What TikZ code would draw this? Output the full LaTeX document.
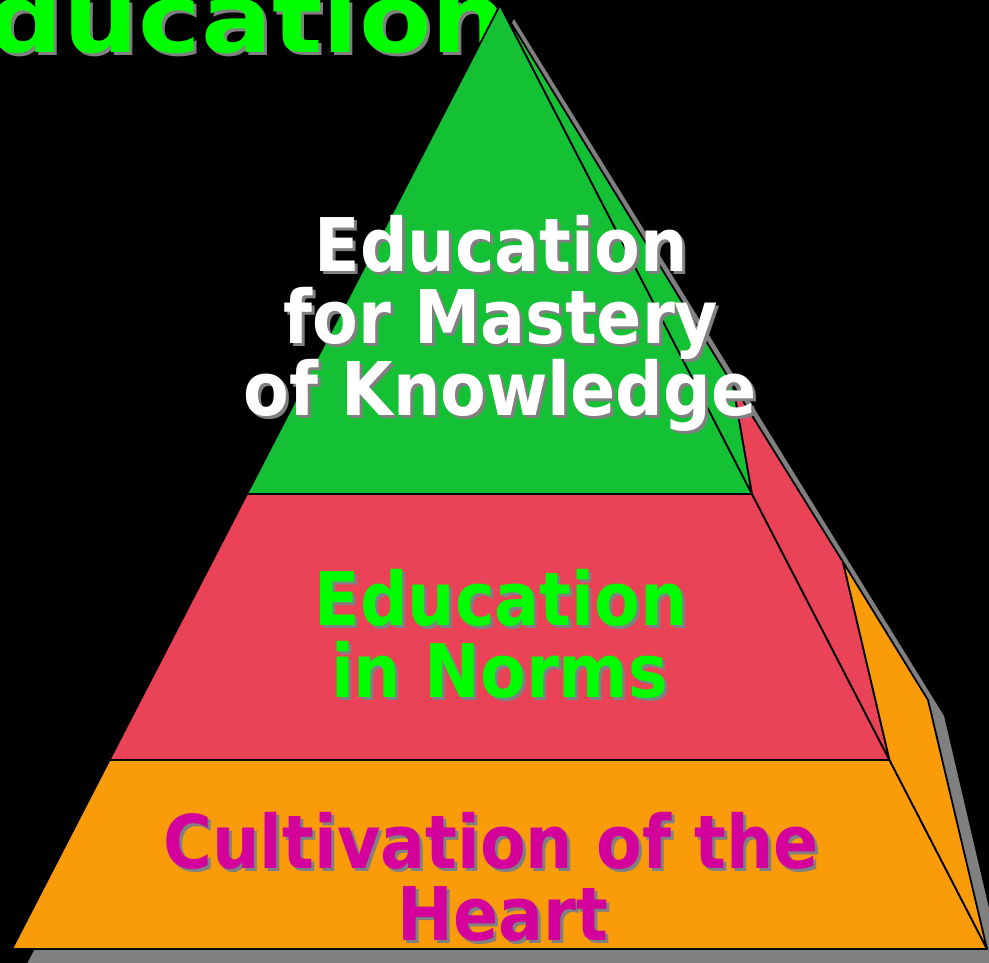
\documentclass[tikz,border=0pt]{standalone}
\usepackage{fontspec}
\setmainfont{DejaVu Sans}
\usetikzlibrary{calc}
\definecolor{pgreen}{RGB}{20,192,52}
\definecolor{pred}{RGB}{234,67,87}
\definecolor{porange}{RGB}{250,155,10}
\definecolor{pmagenta}{RGB}{212,0,155}
\definecolor{tgreen}{RGB}{0,255,0}
\definecolor{sgrey}{RGB}{128,128,128}
\tikzset{
  edge/.style={draw=black, line width=1.8pt, line join=round},
  bodytext/.style={font=\fontsize{74}{80}\selectfont\bfseries, anchor=base, inner sep=0pt},
  titletext/.style={font=\fontsize{96}{100}\selectfont\bfseries, anchor=base east, inner sep=0pt},
}
\newcommand{\shtext}[4]{%
  \node[bodytext, text=sgrey] at ($(#1,#2)+(3,3)$) {\scalebox{0.9}[1]{#4}};
  \node[bodytext, text=#3] at (#1,#2) {\scalebox{0.9}[1]{#4}};
}
\begin{document}
\begin{tikzpicture}[x=1pt,y=-1pt]
\useasboundingbox (0,0) rectangle (989,963);
\fill[black] (0,0) rectangle (989,963);
% key points
\coordinate (apex) at (500,5);
\coordinate (bl) at (12,949);
\coordinate (br) at (987,949);
\coordinate (bk) at (928,700);
\coordinate (l1) at (247,494);
\coordinate (r1) at (752,494);
\coordinate (l2) at (109.5,760);
\coordinate (r2) at (889.5,760);
\coordinate (k1) at (733,385);
\coordinate (k2) at (843,562);
% shadow
\fill[sgrey] ($(apex)+(14,14)$) -- ($(bk)+(16,16)$) -- ($(br)+(15,15)$) -- ($(bl)+(15,15)$) -- cycle;
% title
\node[titletext, text=sgrey] at (510,56) {\scalebox{1.1}[1]{Education}};
\node[titletext, text=tgreen] at (507,53) {\scalebox{1.1}[1]{Education}};
% front layers
\filldraw[edge, fill=pgreen] (apex) -- (l1) -- (r1) -- cycle;
\filldraw[edge, fill=pred] (l1) -- (l2) -- (r2) -- (r1) -- cycle;
\filldraw[edge, fill=porange] (l2) -- (bl) -- (br) -- (r2) -- cycle;
% side layers
\filldraw[edge, fill=pgreen] (apex) -- (r1) -- (k1) -- cycle;
\filldraw[edge, fill=pred] (r1) -- (r2) -- (k2) -- (k1) -- cycle;
\filldraw[edge, fill=porange] (r2) -- (br) -- (bk) -- (k2) -- cycle;
% texts
\shtext{501}{271}{white}{Education}
\shtext{501}{343}{white}{for Mastery}
\shtext{500}{415}{white}{of Knowledge}
\shtext{501}{625}{tgreen}{Education}
\shtext{499.5}{697}{tgreen}{in Norms}
\shtext{491}{868}{pmagenta}{Cultivation of the}
\shtext{503}{940}{pmagenta}{Heart}
\end{tikzpicture}
\end{document}
